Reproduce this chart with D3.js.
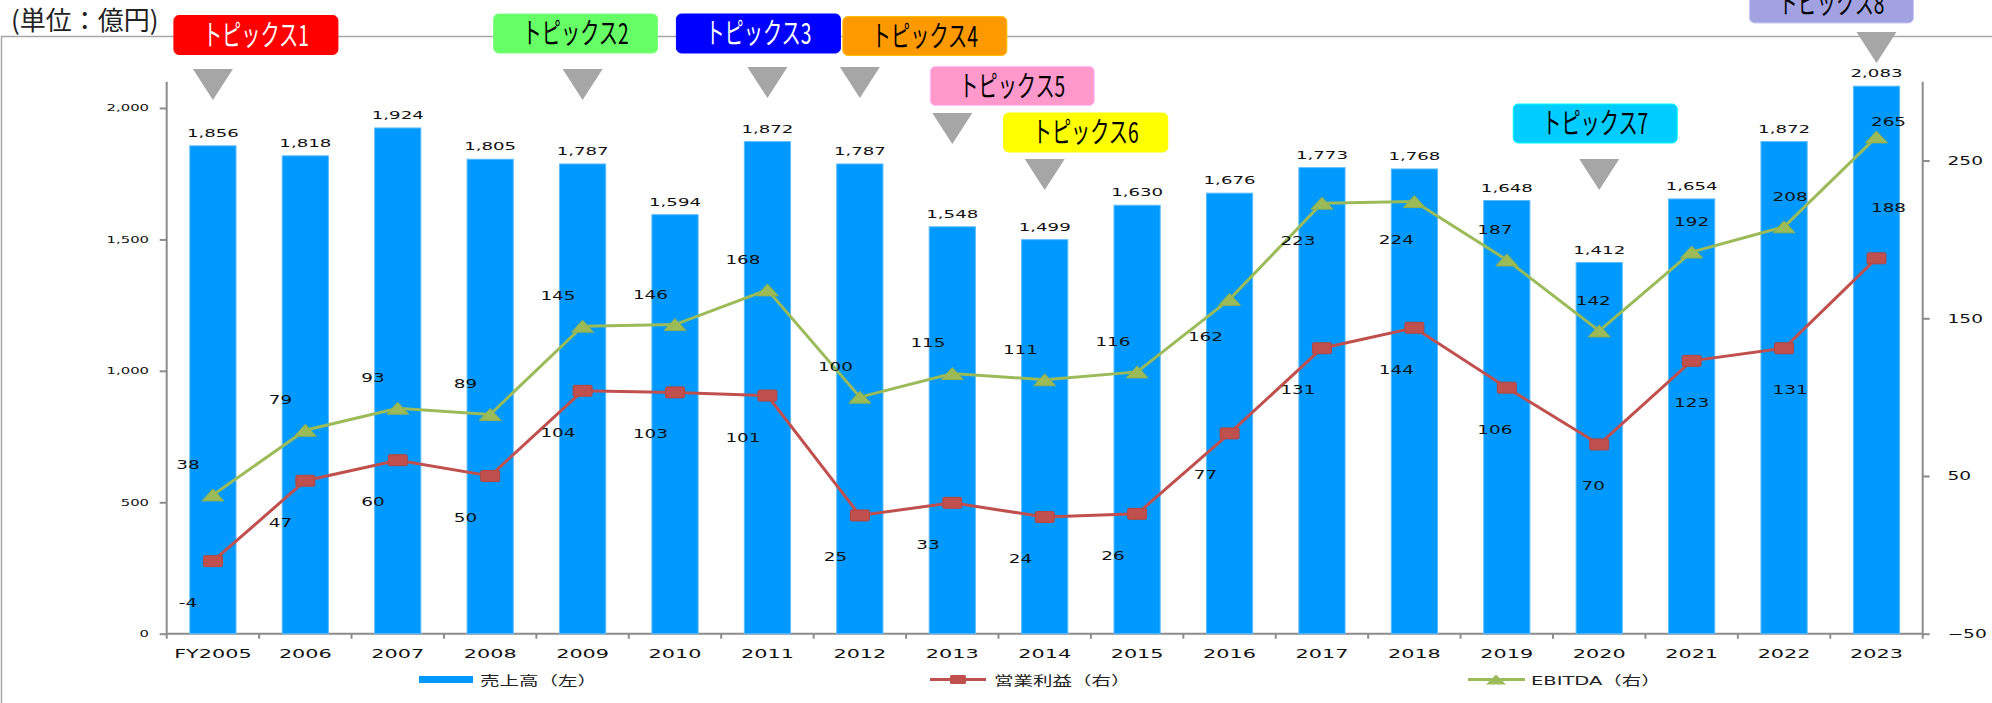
<!DOCTYPE html>
<html>
<head>
<meta charset="utf-8">
<script src="https://cdn.jsdelivr.net/npm/d3@7"></script>
<style>
  body { margin: 0; background: #fff; }
  svg { display: block; }
</style>
</head>
<body>
<div id="chart"></div>
<script>
// data
const years = ["FY2005","2006","2007","2008","2009","2010","2011","2012","2013","2014","2015","2016","2017","2018","2019","2020","2021","2022","2023"];
const sales = [1856,1818,1924,1805,1787,1594,1872,1787,1548,1499,1630,1676,1773,1768,1648,1412,1654,1872,2083];
const opProfit = [-4,47,60,50,104,103,101,25,33,24,26,77,131,144,106,70,123,131,188];
const ebitda = [38,79,93,89,145,146,168,100,115,111,116,162,223,224,187,142,192,208,265];
const leftTicks = [0,500,1000,1500,2000];
const rightTicks = [-50,50,150,250];
// where the line labels sit: a = above, b = below, n = just above
const ebitdaSide = ["a","a","a","a","a","a","a","a","a","a","a","b","b","b","a","a","a","a","n"];
const opSide = ["b","b","b","b","b","b","b","b","b","b","b","b","b","b","b","b","b","b","a"];

const topicNames = ["トピックス1","トピックス2","トピックス3","トピックス4","トピックス5","トピックス6","トピックス7","トピックス8"];
const topicYears = ["FY2005","2009","2011","2012","2013","2014","2020","2023"];
const topicFills = ["#FF0000","#66FF66","#0000FF","#FF9900","#FF99CC","#FFFF00","#00CCFF","#A3A2E0"];
const topicText = ["#fff","#000","#fff","#000","#000","#000","#000","#000"];
// annotation layout (box offset from category, box top, triangle top)
const topicLayout = [
  {dx: 43, top: 15.5, tri: 69},
  {dx: -7, top: 14, tri: 69},
  {dx: -9, top: 14, tri: 67},
  {dx: 65, top: 16.5, tri: 67},
  {dx: 60, top: 66.5, tri: 113},
  {dx: 41, top: 113, tri: 159},
  {dx: -4, top: 104, tri: 159},
  {dx: -45, top: -16, tri: 32}
];

const W = 1992, H = 703;
const svg = d3.select("#chart").append("svg")
    .attr("width", W)
    .attr("height", H);

const numFont = "'DejaVu Sans', Verdana, sans-serif";
const jpFont = "'DejaVu Sans', 'Noto Sans CJK JP', sans-serif";

// frame + unit title
svg.append("path")
    .attr("d", `M1.5,${H} V36.5 H${W}`)
    .attr("fill", "none")
    .attr("stroke", "#a6a6a6")
    .attr("stroke-width", 1.5);

svg.append("text")
    .attr("x", 11)
    .attr("y", 30)
    .attr("font-family", "'Noto Sans CJK JP', sans-serif")
    .attr("font-size", 26)
    .attr("fill", "#222")
    .text("(単位：億円)");

// scales
const x0 = 166.7, x1 = 1922.7, yBase = 633.7, yTop = 81.7;
const x = d3.scaleBand().domain(years).range([x0, x1]).paddingInner(0.5).paddingOuter(0.25);
const cx = d => x(d) + x.bandwidth() / 2;
const yL = d3.scaleLinear().domain([0, 2100]).range([yBase, yTop]);
const yR = d3.scaleLinear().domain([-50, 300]).range([yBase, yTop]);

const fmt = d3.format(",");
const axisColor = "#8c8c8c";

function stretch(sel, sx) {
  sel.attr("transform", function() {
    const t = d3.select(this);
    return `translate(${t.attr("data-x")},${t.attr("data-y")}) scale(${sx},1)`;
  });
}

// left axis
const gl = svg.append("g")
    .attr("transform", `translate(${x0},0)`)
    .call(d3.axisLeft(yL).tickValues(leftTicks).tickSize(7).tickFormat(fmt));
gl.select(".domain").attr("d", `M0,${yTop}V${yBase}`);
gl.selectAll("path, line").attr("stroke", axisColor).attr("stroke-width", 2);
gl.selectAll("text")
    .attr("x", -10.7)
    .attr("font-family", numFont)
    .attr("font-size", 9)
    .attr("fill", "#111")
    .attr("transform", "scale(1.65,1)");

// right axis
const gr = svg.append("g")
    .attr("transform", `translate(${x1},0)`)
    .call(d3.axisRight(yR).tickValues(rightTicks).tickSize(7));
gr.select(".domain").attr("d", `M0,${yTop}V${yBase}`);
gr.selectAll("path, line").attr("stroke", axisColor).attr("stroke-width", 2);
gr.selectAll("text")
    .attr("x", 16)
    .attr("font-family", numFont)
    .attr("font-size", 12)
    .attr("fill", "#111")
    .attr("transform", "scale(1.55,1)");

// bottom axis (ticks between categories like excel)
const gb = svg.append("g");
gb.append("line")
    .attr("x1", x0).attr("x2", x1)
    .attr("y1", yBase).attr("y2", yBase)
    .attr("stroke", axisColor).attr("stroke-width", 2);
const bounds = years.map(d => x(d) - x.step() * 0.25).concat([x1]);
gb.selectAll(".tk")
    .data(bounds)
    .enter()
    .append("line")
    .attr("x1", d => d).attr("x2", d => d)
    .attr("y1", yBase).attr("y2", yBase + 5)
    .attr("stroke", axisColor).attr("stroke-width", 2);
gb.selectAll(".xl")
    .data(years)
    .enter()
    .append("text")
    .attr("data-x", d => cx(d))
    .attr("data-y", 658)
    .attr("text-anchor", "middle")
    .attr("font-family", numFont)
    .attr("font-size", 13)
    .attr("fill", "#111")
    .text(d => d)
    .call(stretch, 1.6);

// bars
svg.selectAll(".bar")
    .data(sales)
    .enter()
    .append("rect")
    .attr("class", "bar")
    .attr("x", (d, i) => x(years[i]))
    .attr("y", d => yL(d))
    .attr("width", x.bandwidth())
    .attr("height", d => yBase - yL(d))
    .attr("fill", "#0099FF")
    .attr("stroke", "#5cbcff")
    .attr("stroke-width", 1);

svg.selectAll(".barlab")
    .data(sales)
    .enter()
    .append("text")
    .attr("data-x", (d, i) => cx(years[i]))
    .attr("data-y", d => yL(d) - 9)
    .attr("text-anchor", "middle")
    .attr("font-family", numFont)
    .attr("font-size", 11)
    .attr("fill", "#111")
    .text(d => fmt(d))
    .call(stretch, 1.65);

// lines
const lineGen = d3.line()
    .x((d, i) => cx(years[i]))
    .y(d => yR(d));

svg.append("path")
    .datum(ebitda)
    .attr("d", lineGen)
    .attr("fill", "none")
    .attr("stroke", "#9BBB59")
    .attr("stroke-width", 3);

svg.append("path")
    .datum(opProfit)
    .attr("d", lineGen)
    .attr("fill", "none")
    .attr("stroke", "#C0504D")
    .attr("stroke-width", 3);

function triPath(px, py) {
  return `M${px - 11},${py + 6} L${px},${py - 6} L${px + 11},${py + 6} Z`;
}

svg.selectAll(".tri")
    .data(ebitda)
    .enter()
    .append("path")
    .attr("d", (d, i) => triPath(cx(years[i]), yR(d)))
    .attr("fill", "#9BBB59")
    .attr("stroke", "#8fae4f")
    .attr("stroke-width", 1);

svg.selectAll(".sq")
    .data(opProfit)
    .enter()
    .append("rect")
    .attr("x", (d, i) => cx(years[i]) - 9.5)
    .attr("y", d => yR(d) - 5.5)
    .attr("width", 19)
    .attr("height", 11)
    .attr("rx", 1.5)
    .attr("fill", "#C0504D")
    .attr("stroke", "#b4463f")
    .attr("stroke-width", 1);

// label offsets drift rightwards in the last years
const labDx = d3.scaleLinear().domain([0, 12, 18]).range([-25, -24, 12]);
const sideDy = {a: -30, b: 38, n: -15};

svg.selectAll(".elab")
    .data(ebitda)
    .enter()
    .append("text")
    .attr("data-x", (d, i) => cx(years[i]) + labDx(i))
    .attr("data-y", (d, i) => yR(d) + sideDy[ebitdaSide[i]] + 4)
    .attr("text-anchor", "middle")
    .attr("font-family", numFont)
    .attr("font-size", 11.5)
    .attr("fill", "#111")
    .text(d => d)
    .call(stretch, 1.6);

svg.selectAll(".olab")
    .data(opProfit)
    .enter()
    .append("text")
    .attr("data-x", (d, i) => cx(years[i]) + labDx(i))
    .attr("data-y", (d, i) => yR(d) + (opSide[i] == "a" ? -50 : 42) + 4)
    .attr("text-anchor", "middle")
    .attr("font-family", numFont)
    .attr("font-size", 11.5)
    .attr("fill", "#111")
    .text(d => d)
    .call(stretch, 1.6);

// legend
const ly = 679.5;
const leg = svg.append("g");
leg.append("rect")
    .attr("x", 419).attr("y", ly - 3.5)
    .attr("width", 54).attr("height", 7)
    .attr("fill", "#0099FF");
leg.append("line")
    .attr("x1", 930).attr("x2", 986).attr("y1", ly).attr("y2", ly)
    .attr("stroke", "#C0504D").attr("stroke-width", 3);
leg.append("rect")
    .attr("x", 950).attr("y", ly - 4.5)
    .attr("width", 16).attr("height", 9)
    .attr("rx", 1.5)
    .attr("fill", "#C0504D");
leg.append("line")
    .attr("x1", 1468).attr("x2", 1525).attr("y1", ly).attr("y2", ly)
    .attr("stroke", "#9BBB59").attr("stroke-width", 3);
leg.append("path")
    .attr("d", `M1486,${ly + 5} L1496,${ly - 5} L1506,${ly + 5} Z`)
    .attr("fill", "#9BBB59");

const legItems = [
  {t: "売上高（左）", lx: 480},
  {t: "営業利益（右）", lx: 994},
  {t: "EBITDA（右）", lx: 1531}
];
leg.selectAll(".lt")
    .data(legItems)
    .enter()
    .append("text")
    .attr("data-x", d => d.lx)
    .attr("data-y", ly + 5)
    .attr("font-family", jpFont)
    .attr("font-size", 13)
    .attr("fill", "#222")
    .text(d => d.t)
    .call(stretch, 1.5);

// topics
const tg = svg.append("g");
topicNames.forEach(function(name, i) {
  const c = cx(topicYears[i]);
  const L = topicLayout[i];
  tg.append("path")
      .attr("d", `M${c - 20},${L.tri} L${c + 20},${L.tri} L${c},${L.tri + 31} Z`)
      .attr("fill", "#A6A6A6");
  tg.append("rect")
      .attr("x", c + L.dx - 82)
      .attr("y", L.top)
      .attr("width", 164)
      .attr("height", 39)
      .attr("rx", 5)
      .attr("fill", topicFills[i])
      .attr("stroke", d3.color(topicFills[i]).brighter(0.6))
      .attr("stroke-width", 1);
  tg.append("text")
      .attr("x", c + L.dx)
      .attr("y", L.top + 30)
      .attr("text-anchor", "middle")
      .attr("font-family", "'Noto Sans CJK JP', sans-serif")
      .attr("font-size", 29)
      .attr("textLength", 106)
      .attr("lengthAdjust", "spacingAndGlyphs")
      .attr("fill", topicText[i])
      .text(name);
});
</script>
</body>
</html>
